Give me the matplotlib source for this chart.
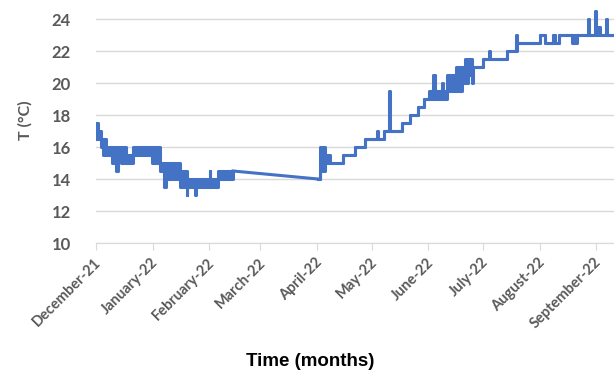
import numpy as np
import pandas as pd
import matplotlib
matplotlib.use("Agg")
import matplotlib.pyplot as plt
import matplotlib.dates as mdates
import matplotlib.transforms as mtransforms

# Temperature log.
# Each row starts a stretch (days after 1 Dec 2021) that lasts until the next row;
# low/high give the range the readings flicker between in that stretch.
seg_days = [0.0, 1.1, 2.7, 3.6, 5.5, 7.7, 8.8, 11.2, 11.8, 12.1, 13.7, 16.4, 20.3,
            30.7, 35.1, 37.5, 38.1, 46.0, 49.6, 50.1, 54.2, 54.8, 62.2, 62.7, 66.8,
            75.1, 75.2,
            121.6, 122.7, 125.5, 128.2, 135.3, 141.9, 147.4, 154.0, 154.4, 157.8,
            160.5, 160.9, 167.7, 172.1, 176.2, 179.7, 182.5, 184.9, 185.5, 189.3,
            189.9, 192.3, 197.3, 200.5, 202.2, 202.7, 203.8, 206.0, 206.6, 212.1,
            215.3, 215.9, 225.2, 230.1, 230.7, 243.3, 246.0, 250.4, 251.5, 253.7,
            260.8, 263.6, 269.6, 270.1, 273.2, 273.7, 274.5, 276.2, 279.5, 280.0,
            286.0]
seg_low = [16.5, 16.5, 16.0, 15.5, 15.5, 15.5, 15.0, 14.5, 15.0, 15.5, 15.0, 15.0, 15.5,
           15.0, 14.5, 13.5, 14.0, 13.5, 13.0, 13.5, 13.0, 13.5, 13.5, 13.5, 14.0,
           14.5, np.nan,
           14.0, 14.5, 15.0, 15.0, 15.5, 16.0, 16.5, 16.5, 16.5, 17.0,
           17.0, 17.0, 17.5, 18.0, 18.5, 19.0, 19.0, 19.0, 19.0, 19.0,
           19.0, 19.5, 19.5, 20.0, 20.0, 20.0, 20.5, 20.0, 21.0, 21.5,
           21.5, 21.5, 22.0, 22.0, 22.5, 23.0, 22.5, 23.0, 22.5, 23.0,
           22.5, 23.0, 23.0, 23.0, 23.0, 23.0, 23.0, 23.0, 23.0, 23.0,
           23.0]
seg_high = [17.5, 17.0, 16.5, 16.5, 16.0, 16.0, 16.0, 15.5, 15.5, 16.0, 16.0, 15.5, 16.0,
            16.0, 15.0, 15.0, 15.0, 14.5, 14.5, 14.0, 14.0, 14.0, 14.5, 14.0, 14.5,
            14.5, np.nan,
            14.0, 16.0, 15.5, 15.0, 15.5, 16.0, 16.5, 17.0, 16.5, 17.0,
            19.5, 17.0, 17.5, 18.0, 18.5, 19.0, 19.5, 20.5, 19.5, 20.0,
            19.5, 20.5, 21.0, 21.0, 21.5, 21.0, 21.5, 21.0, 21.0, 21.5,
            22.0, 21.5, 22.0, 23.0, 22.5, 23.0, 22.5, 23.0, 22.5, 23.0,
            23.0, 23.0, 24.0, 23.0, 24.5, 23.0, 23.5, 23.0, 24.0, 23.0,
            23.0]

# straight link Excel drew across the logging gap (Feb -> Apr)
gap_days = [75.1, 121.6]
gap_temps = [14.5, 14.0]

start = pd.Timestamp("2021-12-01")
seg_dates = start + pd.to_timedelta(seg_days, unit="D")
gap_dates = start + pd.to_timedelta(gap_days, unit="D")

blue = "#4472C4"
grey_txt = "#595959"

fig = plt.figure(figsize=(6.14, 3.74), dpi=100)
ax = fig.add_axes([96 / 614, 1 - 243 / 374, 1 - 96 / 614, 243 / 374])

ax.fill_between(seg_dates, seg_low, seg_high, step="post", color=blue, lw=0)
ax.step(seg_dates, seg_low, where="post", color=blue, lw=2.2)
ax.step(seg_dates, seg_high, where="post", color=blue, lw=2.2)
ax.plot(gap_dates, gap_temps, color=blue, lw=2.2)

ax.set_ylim(10, 10 + 243 / 16)
ax.set_yticks(np.arange(10, 25, 2))
ax.set_xlim(start, start + pd.Timedelta(days=283.8))
ax.xaxis.set_major_locator(mdates.MonthLocator())
ax.xaxis.set_major_formatter(mdates.DateFormatter("%B-%y"))

ax.grid(axis="y", color="#d9d9d9", lw=1)
ax.set_axisbelow(True)
for s in ["top", "right", "left"]:
    ax.spines[s].set_visible(False)
ax.spines["bottom"].set_color("#d9d9d9")
ax.tick_params(axis="y", length=0, pad=18, labelsize=12, labelcolor=grey_txt)
ax.tick_params(axis="x", length=5, color="#d9d9d9", pad=6, labelsize=10.5, labelcolor=grey_txt)
for lab in ax.get_yticklabels():
    lab.set_fontfamily("Lato")
    lab.set_fontweight("bold")
shift = mtransforms.ScaledTranslation(3 / 100, -2 / 100, fig.dpi_scale_trans)
for lab in ax.get_xticklabels():
    lab.set_fontfamily("Lato")
    lab.set_fontweight("bold")
    lab.set_rotation(45)
    lab.set_ha("right")
    lab.set_va("center")
    lab.set_rotation_mode("anchor")
    lab.set_transform(lab.get_transform() + shift)

fig.text(25 / 614, 1 - 120 / 374, "T (°C)", rotation=90, ha="center", va="center",
         fontsize=11.5, fontfamily="Lato", fontweight="bold", color=grey_txt)
fig.text(310 / 614, 1 - 362 / 374, "Time (months)", ha="center", va="center",
         fontsize=13.5, fontfamily="Liberation Sans", fontweight="bold", color="black")

fig.savefig("out.png", dpi=100)
